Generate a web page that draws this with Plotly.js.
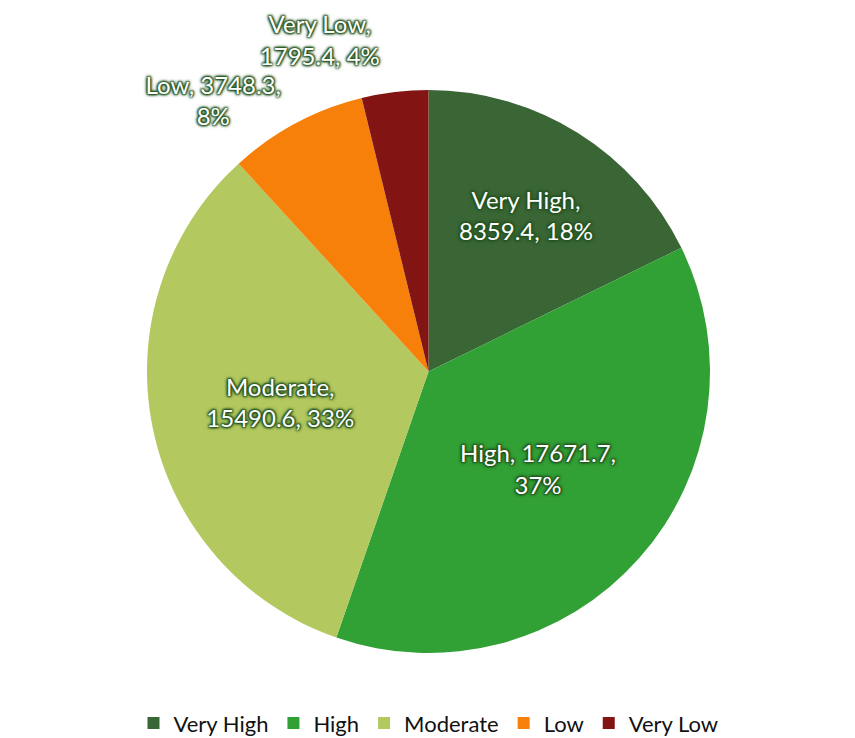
<!DOCTYPE html>
<html>
<head>
<meta charset="utf-8">
<script src="https://cdn.plot.ly/plotly-3.0.1.min.js"></script>
<style>html,body{margin:0;padding:0;background:#fff;}#chart{width:855px;height:738px;}</style>
</head>
<body>
<div id="chart"></div>
<script>
const categories = ["Very High", "High", "Moderate", "Low", "Very Low"];
const values = [8359.4, 17671.7, 15490.6, 3748.3, 1795.4];
const percentLabels = ["18%", "37%", "33%", "8%", "4%"];
const colors = ["#3a6535", "#31a035", "#b3c95f", "#f6800a", "#821414"];
const textPositions = ["inside", "inside", "inside", "outside", "outside"];
const textTemplates = [
  "%{label},<br>%{value:.1f}, %{customdata}",
  "%{label}, %{value:.1f},<br>%{customdata}",
  "%{label},<br>%{value:.1f}, %{customdata}",
  "%{label}, %{value:.1f},<br>%{customdata}",
  "%{label},<br>%{value:.1f}, %{customdata}"
];

const glow = "1px 1px 2px #24541f, -1px -1px 2px #24541f, 1px -1px 2px #24541f, -1px 1px 2px #24541f, 0 0 4px #24541f";
const fontFam = "Lato, 'Open Sans', sans-serif";

const trace = {
  type: "pie",
  labels: categories,
  values: values,
  customdata: percentLabels,
  sort: false,
  direction: "clockwise",
  rotation: 0,
  automargin: true,
  marker: { colors: colors, line: { color: "#ffffff", width: 0 } },
  texttemplate: textTemplates,
  textposition: textPositions,
  insidetextorientation: "horizontal",
  textfont: { family: fontFam, size: 24, color: "#ffffff", shadow: glow },
  insidetextfont: { family: fontFam, size: 24, color: "#ffffff", shadow: glow },
  outsidetextfont: { family: fontFam, size: 24, color: "#ffffff", shadow: glow },
  hoverinfo: "label+value+percent",
  domain: { x: [0, 1], y: [0, 1] }
};

const layout = {
  width: 855,
  height: 738,
  margin: { l: 0, r: 0, t: 90, b: 85 },
  paper_bgcolor: "#ffffff",
  showlegend: true,
  legend: {
    orientation: "h",
    x: 0.5, xanchor: "center",
    y: 0.02, yanchor: "middle",
    yref: "container",
    font: { family: fontFam, size: 22, color: "#111111" },
    traceorder: "normal"
  },
  font: { family: fontFam }
};

Plotly.newPlot("chart", [trace], layout, { displayModeBar: false, staticPlot: true });
</script>
</body>
</html>
